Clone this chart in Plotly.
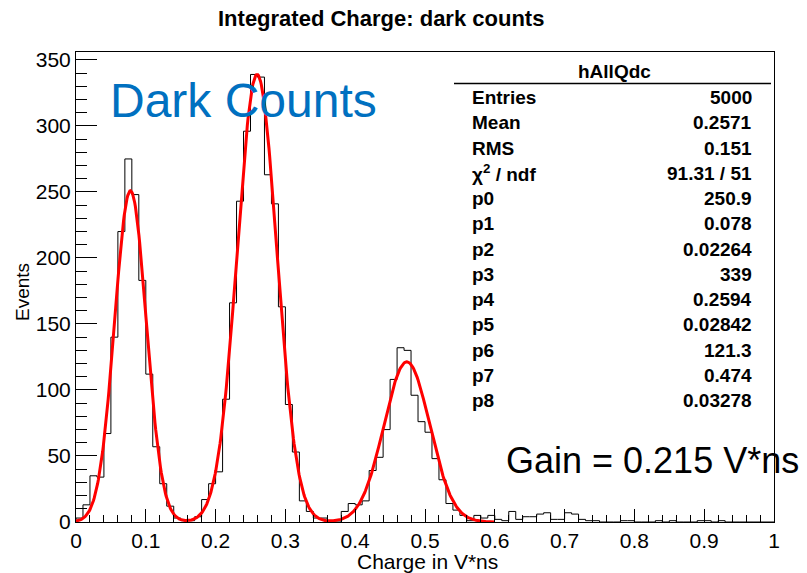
import numpy as np
import plotly.graph_objects as go

# ---------------- data ----------------
bin_edges = np.linspace(0.0, 1.0, 101)  # 100 bins of width 0.01 (V*ns)
counts = [
    3, 13, 35, 34, 67, 140, 220, 275, 248, 183,      # 0.00-0.10
    112, 57, 29, 12, 3, 1, 1, 4, 17, 29,             # 0.10-0.20
    38, 93, 166, 243, 296, 339, 337, 263, 241, 163,  # 0.20-0.30
    89, 53, 16, 8, 3, 3, 0, 0, 8, 14,                # 0.30-0.40
    13, 16, 39, 49, 70, 108, 132, 130, 96, 76,       # 0.40-0.50
    68, 48, 32, 14, 9, 5, 1, 5, 3, 5,                # 0.50-0.60
    2, 1, 8, 2, 4, 4, 6, 7, 2, 2,                    # 0.60-0.70
    7, 6, 2, 1, 1, 0, 0, 0, 1, 1,                    # 0.70-0.80
    0, 0, 0, 1, 0, 1, 0, 0, 0, 1,                    # 0.80-0.90
    1, 0, 1, 0, 0, 0, 0, 0, 0, 0,                    # 0.90-1.00
]

# fit parameters (three gaussians) from the stats box
fit_params = [250.9, 0.078, 0.02264, 339.0, 0.2594, 0.02842, 121.3, 0.474, 0.03278]
fit_range = [0.0, 0.6]

stats_title = "hAllQdc"
stats_labels = ["Entries", "Mean", "RMS", "χ<sup>2</sup> / ndf", "p0", "p1", "p2",
                "p3", "p4", "p5", "p6", "p7", "p8"]
stats_values = ["5000", "0.2571", "0.151", "91.31 / 51", "250.9", "0.078", "0.02264",
                "339", "0.2594", "0.02842", "121.3", "0.474", "0.03278"]

x_ticks = [0, 0.1, 0.2, 0.3, 0.4, 0.5, 0.6, 0.7, 0.8, 0.9, 1]
x_tick_text = ["0", "0.1", "0.2", "0.3", "0.4", "0.5", "0.6", "0.7", "0.8", "0.9", "1"]
y_ticks = [0, 50, 100, 150, 200, 250, 300, 350]

# ---------------- figure ----------------
W, H = 807, 573
ML, MR, MT, MB = 76, 33, 52, 51
PW, PH = W - ML - MR, H - MT - MB
FONT = "Liberation Sans, Arial, Helvetica, sans-serif"


def px(xp):
    return (xp - ML) / PW


def py(yp):
    return (H - MB - yp) / PH


# step histogram outline
hx = list(bin_edges[:-1]) + [bin_edges[-1]]
hy = list(counts) + [counts[-1]]
hx = [bin_edges[0]] + hx + [bin_edges[-1]]
hy = [0] + hy + [0]

# fit curve
xf = np.linspace(fit_range[0], fit_range[1], 600)
p = fit_params
yf = (p[0] * np.exp(-0.5 * ((xf - p[1]) / p[2]) ** 2)
      + p[3] * np.exp(-0.5 * ((xf - p[4]) / p[5]) ** 2)
      + p[6] * np.exp(-0.5 * ((xf - p[7]) / p[8]) ** 2))

fig = go.Figure()
fig.add_trace(go.Scatter(x=hx, y=hy, mode="lines", line=dict(color="black", width=1, shape="hv"),
                         hoverinfo="skip", showlegend=False))
fig.add_trace(go.Scatter(x=xf, y=yf, mode="lines", line=dict(color="#ff0000", width=3),
                         hoverinfo="skip", showlegend=False))

annotations = []
# title
annotations.append(dict(text="<b>Integrated Charge: dark counts</b>", x=px(381), y=py(18),
                        xref="paper", yref="paper", xanchor="center", yanchor="middle",
                        showarrow=False, font=dict(family=FONT, size=22, color="black")))
# axis titles
annotations.append(dict(text="Charge in V*ns", x=px(427), y=py(561), xref="paper", yref="paper",
                        xanchor="center", yanchor="middle", showarrow=False,
                        font=dict(family=FONT, size=21, color="black")))
annotations.append(dict(text="Events", x=px(22), y=py(292), xref="paper", yref="paper",
                        xanchor="center", yanchor="middle", showarrow=False, textangle=-90,
                        font=dict(family=FONT, size=19, color="black")))
# big labels
annotations.append(dict(text="Dark Counts", x=px(108), y=py(100), xref="paper", yref="paper",
                        xanchor="left", yanchor="middle", showarrow=False,
                        font=dict(family=FONT, size=48, color="#0070c0")))
annotations.append(dict(text="Gain = 0.215 V*ns", x=px(504), y=py(460), xref="paper", yref="paper",
                        xanchor="left", yanchor="middle", showarrow=False,
                        font=dict(family=FONT, size=36, color="black")))
# stats box
annotations.append(dict(text="<b>" + stats_title + "</b>", x=px(614), y=py(72), xref="paper",
                        yref="paper", xanchor="center", yanchor="middle", showarrow=False,
                        font=dict(family=FONT, size=19, color="black")))
row0, dy = 97.5, 25.27
for i, (lab, val) in enumerate(zip(stats_labels, stats_values)):
    yy = py(row0 + i * dy)
    annotations.append(dict(text="<b>" + lab + "</b>", x=px(470), y=yy, xref="paper", yref="paper",
                            xanchor="left", yanchor="middle", showarrow=False,
                            font=dict(family=FONT, size=19, color="black")))
    annotations.append(dict(text="<b>" + val + "</b>", x=px(754), y=yy, xref="paper", yref="paper",
                            xanchor="right", yanchor="middle", showarrow=False,
                            font=dict(family=FONT, size=19, color="black")))

shapes = [dict(type="line", xref="paper", yref="paper", x0=px(454), x1=px(771),
               y0=py(83.5), y1=py(83.5), line=dict(color="black", width=1.5))]

fig.update_layout(
    width=W, height=H,
    margin=dict(l=ML, r=MR, t=MT, b=MB, pad=0),
    paper_bgcolor="white", plot_bgcolor="white",
    annotations=annotations, shapes=shapes,
    font=dict(family=FONT, size=21, color="black"),
    xaxis=dict(range=[0, 1], tickvals=x_ticks, ticktext=x_tick_text, ticks="inside", ticklen=13,
               tickcolor="black", tickwidth=1, showgrid=False, zeroline=False,
               showline=True, linecolor="black", linewidth=1, mirror=True,
               tickfont=dict(family=FONT, size=21, color="black"),
               minor=dict(dtick=0.02, ticks="inside", ticklen=7, tickcolor="black", showgrid=False)),
    yaxis=dict(range=[0, 356], tickvals=y_ticks, ticks="inside", ticklen=21,
               tickcolor="black", tickwidth=1, showgrid=False, zeroline=False,
               showline=True, linecolor="black", linewidth=1, mirror=True,
               tickfont=dict(family=FONT, size=21, color="black"),
               minor=dict(dtick=10, ticks="inside", ticklen=11, tickcolor="black", showgrid=False)),
)

fig.write_html("out.html")
